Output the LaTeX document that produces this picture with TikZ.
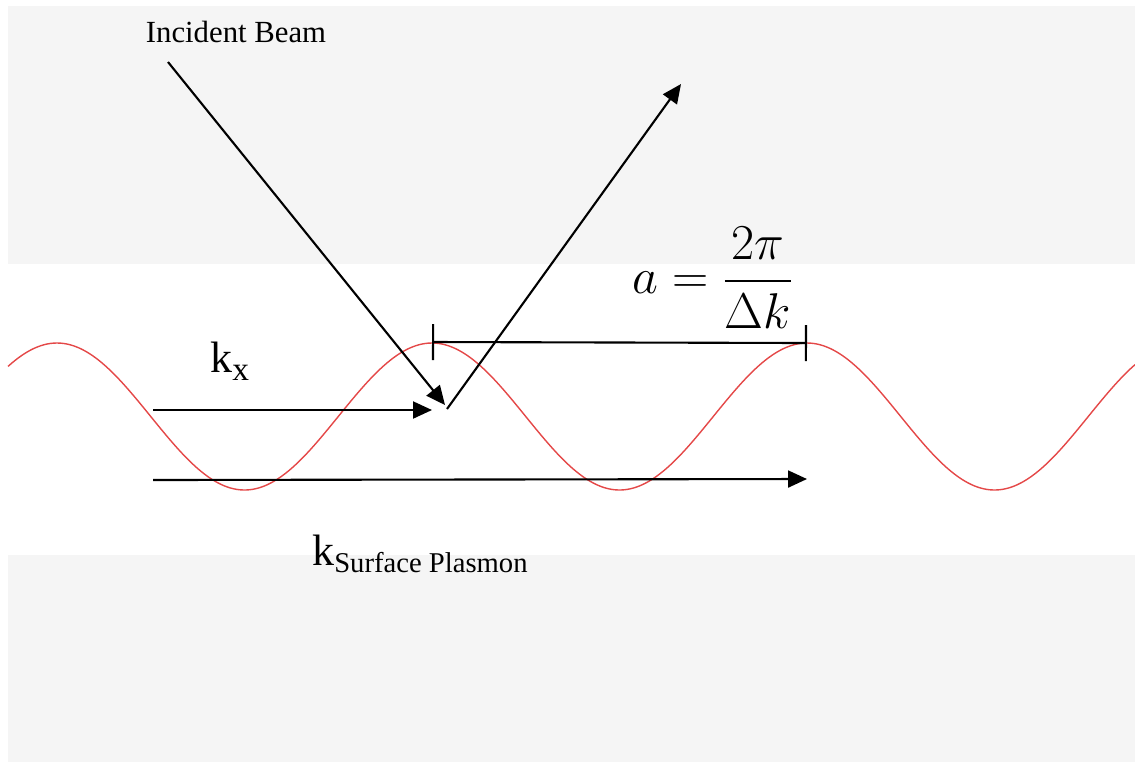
\documentclass[tikz,border=0pt]{standalone}
\usepackage[no-math]{fontspec}
\usepackage{amsmath}
\usetikzlibrary{arrows.meta, calc}
\newfontfamily\tnr{Liberation Serif}
\definecolor{wavered}{RGB}{228,72,72}
\tikzset{ray/.style={-{Triangle[length=3.8mm, width=3.4mm]}, line width=1.2pt},
wave/.style={wavered, line width=0.8pt},
span/.style={{Bar[width=7.2mm]}-{Bar[width=7.2mm]}, line width=1.2pt},
lbl/.style={font=\tnr, inner sep=0pt},
checker/.style={fill=black!4, draw=none}}

\begin{document}
\begin{tikzpicture}[x=0.02cm, y=-0.02cm]
  \useasboundingbox (0,0) rectangle (1135,762);
  \fill[checker] (8,6) rectangle (1135,264);
  \fill[checker] (8,555) rectangle (1135,762);
  \draw[wave] plot[domain=8:1135, samples=240, smooth] (\x, {416.5-73.5*cos(0.96*(\x-432))});
  \node[lbl, font=\tnr\fontsize{17.5}{20}\selectfont, anchor=base] (beam) at (236,42) {Incident Beam};
  \node[lbl, anchor=base west] (kx) at (210,372) {\fontsize{25}{28}\selectfont k\raisebox{-5pt}{\fontsize{19}{22}\selectfont x}};
  \node[lbl, anchor=base west] (ksp) at (312,565) {\fontsize{25}{28}\selectfont k\raisebox{-4pt}{\fontsize{16.3}{19}\selectfont Surface Plasmon}};
  \node[inner sep=0pt] (period) at (713,278) {\scalebox{1.15}{\fontsize{24.88}{28}\selectfont $a=\dfrac{2\pi}{\Delta k}$}};
  \coordinate (beamstart) at (168,62);
  \coordinate (hit) at (447,409);
  \coordinate (reflend) at (681,84);
  \coordinate (kxstart) at (153,410);
  \coordinate (kxend) at (432,410);
  \coordinate (kspstart) at (153,480);
  \coordinate (kspend) at (807,479);
  \coordinate (dimleft) at (432,342);
  \coordinate (dimright) at (807,343);
  \draw[ray] (beamstart) -- ($(hit)+(-2,-4)$);
  \draw[ray] (hit) -- (reflend);
  \draw[ray] (kxstart) -- (kxend);
  \draw[ray] (kspstart) -- (kspend);
  \draw[span] (dimleft) -- (dimright);
\end{tikzpicture}
\end{document}
